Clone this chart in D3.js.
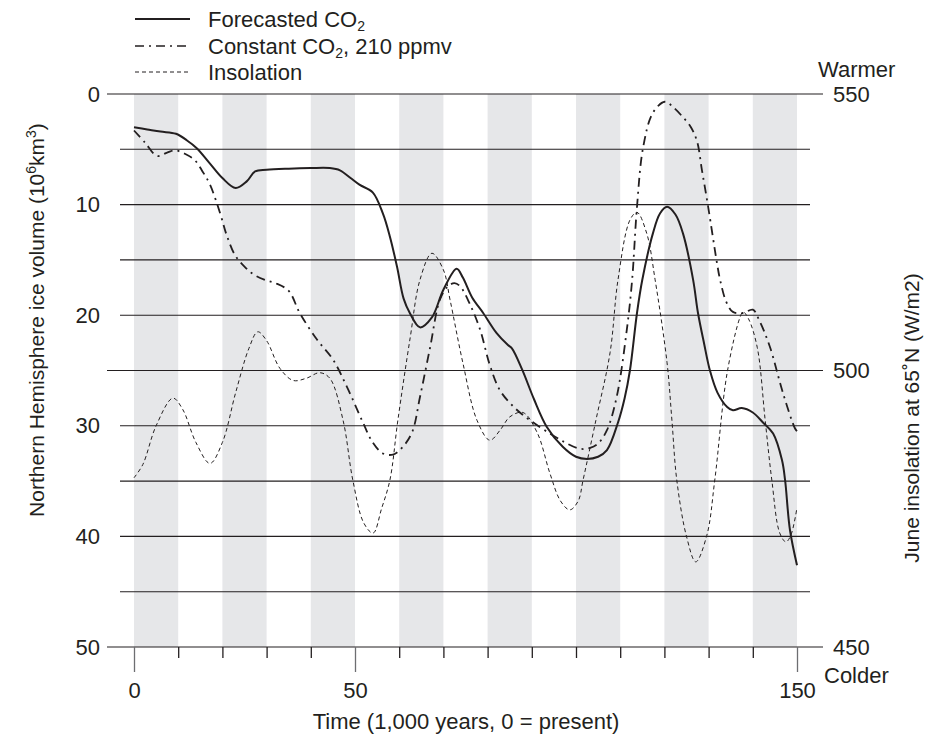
<!DOCTYPE html>
<html>
<head>
<meta charset="utf-8">
<script src="https://cdn.jsdelivr.net/npm/d3@7"></script>
<style>
  html, body { margin: 0; padding: 0; background: #fff; }
  svg text { font-family: "Liberation Sans", Arial, Helvetica, sans-serif; fill: #231f20; }
</style>
</head>
<body>
<svg id="chart" width="928" height="747"></svg>
<script>
// Time axis (thousands of years from present)
const timeTicks = [0, 10, 20, 30, 40, 50, 60, 70, 80, 90, 100, 110, 120, 130, 140, 150];
const timeLabels = [0, 50, 150];
const bandStarts = [0, 20, 40, 60, 80, 100, 120, 140];
const bandWidth = 10;

// Ice volume axis (10^6 km^3, increasing downward)
const iceTicks = [0, 10, 20, 30, 40, 50];
const minorLevels = [5, 10, 15, 20, 30, 35, 40, 45];
const majorLevels = [0, 25, 50];

// Insolation axis (W/m2)
const insTicks = [450, 500, 550];

// Forecasted CO2: [time, ice volume]
const forecastT = [0, 3, 6, 9.5, 12, 14.2, 17, 20, 23, 25.5, 27.4, 30, 35, 40, 44.3, 46.6, 49, 51, 54,
  56.3, 57.9, 59.5, 61, 62.4, 64.7, 67.4, 70, 73, 74.4, 76.5, 79, 82, 84.6, 85.5, 87.8, 90.5, 93.4,
  97, 100, 102.5, 105, 107, 109.5, 111, 112.2, 113.8, 115, 117.4, 119, 120.6, 122.5, 124.2, 126.5,
  127.6, 129, 130.3, 132, 134.2, 135.5, 137.5, 140, 142.3, 144.6, 146.6, 147.3, 148.4, 150];
const forecastV = [3.0, 3.2, 3.4, 3.6, 4.2, 4.9, 6.2, 7.6, 8.5, 7.9, 7.0, 6.85, 6.75, 6.7, 6.7, 6.9, 7.6, 8.2, 8.9,
  10.8, 12.9, 15.6, 18.5, 19.8, 21.1, 20.2, 17.7, 15.8, 16.6, 18.4, 19.8, 21.6, 22.7, 23.0, 24.9, 27.6, 30.1,
  31.9, 32.8, 33.0, 32.8, 32.2, 29.7, 27.5, 25.0, 19.8, 16.8, 12.6, 10.8, 10.2, 10.9, 12.6, 16.8,
  19.8, 22.6, 25.0, 27.0, 28.3, 28.6, 28.4, 28.8, 29.7, 30.7, 33.1, 34.9, 39.4, 42.6];

// Constant CO2 at 210 ppmv: [time, ice volume]
const constantT = [0, 2.5, 5.2, 7.5, 9.3, 11.5, 13.8, 15.5, 17.2, 19.5, 21, 22.9, 25, 27, 29.6, 32, 35, 37.5,
  41.4, 45, 48.2, 51.8, 54, 56.3, 58.6, 60.6, 62.9, 64.7, 67, 69.2, 71, 72.5, 73.8, 76, 78.3, 80.5,
  82.8, 86.2, 89.6, 94.1, 97.5, 100.2, 101.6, 103.2, 105, 107, 109.2, 111.5, 112.7, 113.8, 115.2,
  117.4, 120.1, 122, 124.2, 126, 127.4, 128.5, 129.9, 131.9, 132.6, 134, 135.5, 137.8, 140, 141.5,
  143.9, 146.8, 149.5, 150];
const constantV = [3.3, 4.4, 5.6, 5.3, 5.1, 5.4, 6.0, 7.0, 8.2, 10.8, 12.8, 14.6, 15.6, 16.3, 16.8, 17.1, 17.8, 19.8,
  22.2, 24.0, 26.5, 29.7, 31.5, 32.5, 32.6, 32.0, 30.6, 27.4, 22.9, 18.6, 17.4, 17.1, 17.4, 19.0, 21.3, 24.5,
  26.8, 28.4, 29.5, 30.7, 31.5, 32.0, 32.1, 32.0, 31.6, 30.4, 27.4, 21.3, 16.8, 10.2, 4.8,
  1.7, 0.7, 1.2, 2.1, 3.0, 4.3, 6.9, 10.2, 15.3, 16.8, 18.8, 19.7, 19.8, 19.5, 20.5,
  22.9, 27.0, 30.2, 30.5];

// June insolation at 65N: [time, W/m2]
const insolT = [0, 2, 5, 8.8, 11, 14, 17.2, 20, 23, 26, 28, 30, 33, 36, 39, 42, 44.3, 47.3, 49.5, 52, 54.1,
  56, 57.9, 59.7, 62.5, 64.7, 67.4, 70, 71.5, 74.4, 77.6, 80.5, 83, 85, 88, 91.2, 94.1, 96.5, 98.6,
  100.5, 101.6, 104.5, 107.7, 109.5, 112.2, 113.8, 116, 117.9, 120.6, 121.7, 122.8, 125, 127.1,
  129.6, 131.4, 134.2, 137.1, 137.8, 139, 141, 142.8, 144.3, 146.1, 147.5, 148.6, 150];
const insolW = [480.6, 483, 490, 495, 493, 487, 483.2, 487, 496, 504, 507, 505.4, 500.4, 498.2, 498.6, 499.6, 498.6, 491, 480.2, 472.4, 470.6,
  475, 480.2, 491, 506, 516.4, 521.2, 518.2, 512.8, 501.4, 491, 487.4, 489.4, 491.6, 492.4, 488.8, 481.4, 476.4, 474.8,
  476.4, 480.2, 491, 503.2, 516.4, 527.2, 528.6, 524.8, 516.4, 501.4, 491, 480.2, 470, 465.4,
  470.2, 480.2, 499.6, 509.6, 510.6, 509.4, 504.2, 491, 480.2, 470.6, 469, 470.2, 475.2];

const svg = d3.select("#chart");
const ink = "#231f20";
const fs = "22px";
const subFs = "14px";
const sideFs = "21px";

const x = d3.scaleLinear().domain([0, 150]).range([134, 797]);
const y = d3.scaleLinear().domain([0, 50]).range([94, 647]);
const yR = d3.scaleLinear().domain([450, 550]).range([647, 94]);

// Alternating shaded 10-kyr bands
svg.append("g").selectAll("rect")
  .data(bandStarts)
  .join("rect")
  .attr("x", d => x(d))
  .attr("y", y(0))
  .attr("width", d => x(d + bandWidth) - x(d))
  .attr("height", y(50) - y(0))
  .attr("fill", "#e6e7e9");

// Horizontal reference lines
svg.append("g").selectAll("line")
  .data(minorLevels)
  .join("line")
  .attr("x1", 120).attr("x2", 810)
  .attr("y1", d => y(d)).attr("y2", d => y(d))
  .attr("stroke", ink).attr("stroke-width", 1.1);

svg.append("g").selectAll("line")
  .data(majorLevels)
  .join("line")
  .attr("x1", 107).attr("x2", 823)
  .attr("y1", d => y(d)).attr("y2", d => y(d))
  .attr("stroke", ink).attr("stroke-width", 1.2);

// Left axis labels
const gl = svg.append("g")
  .attr("transform", "translate(107,0)")
  .call(d3.axisLeft(y).tickValues(iceTicks).tickSize(0).tickPadding(7));
gl.select(".domain").remove();
gl.selectAll("text").style("font-size", fs).attr("fill", ink);

// Right axis labels
const gr = svg.append("g")
  .attr("transform", "translate(823,0)")
  .call(d3.axisRight(yR).tickValues(insTicks).tickSize(0).tickPadding(10));
gr.select(".domain").remove();
gr.selectAll("text").style("font-size", fs).attr("fill", ink);

// Bottom axis
const gb = svg.append("g")
  .attr("transform", `translate(0,${y(50)})`)
  .call(d3.axisBottom(x).tickValues(timeTicks).tickSize(11).tickPadding(24)
    .tickFormat(d => timeLabels.includes(d) ? d : ""));
gb.select(".domain").remove();
gb.selectAll(".tick line")
  .attr("stroke", d => timeLabels.includes(d) ? "#6d6e71" : ink)
  .attr("stroke-width", 1.3)
  .attr("y2", d => timeLabels.includes(d) ? 25 : 11);
gb.selectAll("text").style("font-size", fs).attr("fill", ink);

// Warmer / Colder annotations
svg.append("text").attr("x", 818).attr("y", 77).style("font-size", fs).text("Warmer");
svg.append("text").attr("x", 824).attr("y", 683).style("font-size", fs).text("Colder");

// Axis titles
const leftTitle = svg.append("text")
  .attr("transform", "translate(44,320) rotate(-90)")
  .attr("text-anchor", "middle")
  .style("font-size", sideFs);
leftTitle.append("tspan").text("Northern Hemisphere ice volume (10");
leftTitle.append("tspan").attr("dy", -8).style("font-size", "14px").text("6");
leftTitle.append("tspan").attr("dy", 8).text("km");
leftTitle.append("tspan").attr("dy", -8).style("font-size", "14px").text("3");
leftTitle.append("tspan").attr("dy", 8).text(")");

svg.append("text")
  .attr("transform", "translate(919,418) rotate(-90)")
  .attr("text-anchor", "middle")
  .style("font-size", sideFs)
  .text("June insolation at 65˚N (W/m2)");

svg.append("text")
  .attr("x", 466).attr("y", 729)
  .attr("text-anchor", "middle")
  .style("font-size", fs)
  .text("Time (1,000 years, 0 = present)");

// Series curves
const curve = d3.curveCatmullRom.alpha(0.5);
const iceLine = d3.line().x(d => x(d[0])).y(d => y(d[1])).curve(curve);
const insLine = d3.line().x(d => x(d[0])).y(d => yR(d[1])).curve(curve);

const forecast = d3.zip(forecastT, forecastV);
const constant = d3.zip(constantT, constantV);
const insol = d3.zip(insolT, insolW);

svg.append("path").datum(insol)
  .attr("d", insLine)
  .attr("fill", "none").attr("stroke", ink)
  .attr("stroke-width", 1).attr("stroke-dasharray", "4,3");

svg.append("path").datum(constant)
  .attr("d", iceLine)
  .attr("fill", "none").attr("stroke", ink)
  .attr("stroke-width", 1.8).attr("stroke-dasharray", "9,5,2,5");

svg.append("path").datum(forecast)
  .attr("d", iceLine)
  .attr("fill", "none").attr("stroke", ink)
  .attr("stroke-width", 2);

// Legend
const legend = [
  { label: "Forecasted CO", sub: "2", rest: "", dash: null, width: 1.8, lineY: 19, textY: 27 },
  { label: "Constant CO", sub: "2", rest: ", 210 ppmv", dash: "9,5,2,5", width: 1.6, lineY: 46, textY: 54 },
  { label: "Insolation", sub: "", rest: "", dash: "4,3", width: 1, lineY: 72, textY: 80 }
];
const lg = svg.append("g");
legend.forEach(item => {
  lg.append("line")
    .attr("x1", 135).attr("x2", 190)
    .attr("y1", item.lineY).attr("y2", item.lineY)
    .attr("stroke", ink).attr("stroke-width", item.width)
    .attr("stroke-dasharray", item.dash);
  const t = lg.append("text").attr("x", 208).attr("y", item.textY).style("font-size", fs);
  t.append("tspan").text(item.label);
  if (item.sub) {
    t.append("tspan").attr("dy", 4).style("font-size", subFs).text(item.sub);
    t.append("tspan").attr("dy", -4).text(item.rest);
  }
});
</script>
</body>
</html>
